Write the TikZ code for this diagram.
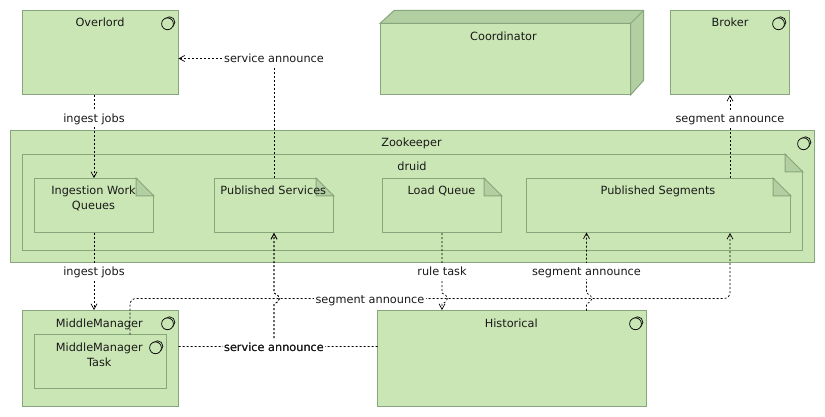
\documentclass[tikz,border=0pt]{standalone}
\usepackage{fontspec}
\setmainfont{DejaVu Sans}
\usepackage{tikz}
\usetikzlibrary{arrows.meta}
\definecolor{boxfill}{HTML}{CBE6B5}
\definecolor{boxline}{HTML}{88A67C}
\definecolor{boxdark}{HTML}{B2CFA2}
\tikzset{
  box/.style={draw=boxline,fill=boxfill,line width=1pt,inner sep=0pt},
  txtm/.style={font=\fontsize{11.3}{15}\selectfont,inner sep=0pt,align=center,text=black!90},
  txt/.style={txtm,text height=11.5pt,text depth=2.5pt},
  lbl/.style={txt,fill=white,inner xsep=1.5pt,inner ysep=1pt},
  conn/.style={black,line width=.7pt,dash pattern=on 2pt off 2pt},
  tip/.style={-{Straight Barb[length=5.5pt,width=6pt]}}
}
% folded corner on a named box
\newcommand{\notefold}[1]{
  \fill[boxfill] ([xshift=-18pt,yshift=1pt]#1.north east) -- ([xshift=1pt,yshift=1pt]#1.north east) -- ([xshift=1pt,yshift=-18pt]#1.north east) -- cycle;
  \draw[boxline,fill=boxdark,line width=1pt] ([xshift=-18pt]#1.north east) -- ([yshift=-18pt]#1.north east) -- ([xshift=-18pt,yshift=-18pt]#1.north east) -- cycle;
}
% component mark in the corner of a named box
\newcommand{\compmark}[1]{
  \draw[black,line width=.7pt] ([xshift=-9.5pt,yshift=-12.2pt]#1.north east) circle (5.4pt);
  \draw[black,fill=boxfill,line width=.7pt] ([xshift=-11.5pt,yshift=-13.8pt]#1.north east) circle (5.9pt);
}
\begin{document}
\begin{tikzpicture}[x=1pt,y=-1pt]
\useasboundingbox (0,0) rectangle (825,417);
\node[box,minimum width=156pt,minimum height=84pt] (overlord) at (100.5,52.5) {};
\node[box,minimum width=119pt,minimum height=84pt] (broker) at (730,52.5) {};
\node[box,minimum width=249.5pt,minimum height=70.5pt] (coord) at (505.25,59.25) {};
\draw[boxline,fill=boxdark,line width=1pt] (coord.north west) -- (394,10.5) -- (643.5,10.5) -- (643.5,80.5) -- (coord.south east) -- (coord.north east) -- cycle;
\draw[boxline,line width=1pt] (coord.north east) -- (643.5,10.5);
\node[box,minimum width=804pt,minimum height=132pt] (zoo) at (412.5,196.5) {};
\node[box,minimum width=780pt,minimum height=96pt] (druid) at (412.5,202.5) {};
\node[box,minimum width=119pt,minimum height=54pt] (ingest) at (94,205.5) {};
\node[box,minimum width=119pt,minimum height=54pt] (pubsvc) at (274,205.5) {};
\node[box,minimum width=119pt,minimum height=54pt] (loadq) at (442,205.5) {};
\node[box,minimum width=264pt,minimum height=54pt] (pubseg) at (658.5,205.5) {};
\node[box,minimum width=156pt,minimum height=95.5pt] (mm) at (100.5,358.25) {};
\node[box,minimum width=132pt,minimum height=54pt] (task) at (100.5,361.5) {};
\node[box,minimum width=269pt,minimum height=95.5pt] (hist) at (512,358.25) {};
\notefold{druid}
\notefold{ingest}
\notefold{pubsvc}
\notefold{loadq}
\notefold{pubseg}
\compmark{overlord}
\compmark{broker}
\compmark{zoo}
\compmark{mm}
\compmark{task}
\compmark{hist}
\node[txt] (overlordtxt) at (100,22) {Overlord};
\node[txt] (coordtxt) at (503.5,36) {Coordinator};
\node[txt] (brokertxt) at (730,22) {Broker};
\node[txt] (zootxt) at (411.5,142.5) {Zookeeper};
\node[txt] (druidtxt) at (412,166) {druid};
\node[txt] (pubsvctxt) at (273.3,190.5) {Published Services};
\node[txt] (loadqtxt) at (441.5,190.5) {Load Queue};
\node[txt] (pubsegtxt) at (658,190.5) {Published Segments};
\node[txt] (mmtxt) at (99.3,322.5) {MiddleManager};
\node[txt] (histtxt) at (511.3,322.5) {Historical};
\node[txtm] (ingesttxt) at (93.5,198.5) {Ingestion Work\\Queues};
\node[txtm] (tasktxt) at (99.3,354.5) {MiddleManager\\Task};
% connector ends that sit off the box centres
\coordinate (segin) at (586.5,310.5);
\coordinate (segup) at (586.5,232.5);
\coordinate (taskup) at (130,334.5);
\coordinate (svcin) at (178.5,58.5);
\coordinate (mmout) at (178.5,346.5);
\coordinate (histout) at (377.5,346.5);
\coordinate (svcmid) at (274,346.5);
\draw[conn,tip] (overlord.south -| ingest.north) -- (ingest.north);
\draw[conn,tip] (ingest.south) -- (ingest.south |- mm.north);
\draw[conn,tip] (pubsvc.north) -- (274,58.5) -- (svcin);
\draw[conn,tip] (mmout) -- (svcmid) -- (274,304) .. controls (277,302.5) and (279.5,301) .. (279.5,298.5) .. controls (279.5,296) and (277,294.5) .. (274,293) -- (pubsvc.south);
\draw[conn,tip] (histout) -- (svcmid) -- (274,304) .. controls (277,302.5) and (279.5,301) .. (279.5,298.5) .. controls (279.5,296) and (277,294.5) .. (274,293) -- (pubsvc.south);
\draw[conn,tip] (pubseg.north -| broker.south) -- (broker.south);
\draw[conn,tip] (loadq.south) -- (442,293) .. controls (445,294.5) and (447.5,296) .. (447.5,298.5) .. controls (447.5,301) and (445,302.5) .. (442,304) -- (loadq.south |- hist.north);
\draw[conn,tip] (segin) -- (586.5,304) .. controls (589.5,302.5) and (592,301) .. (592,298.5) .. controls (592,296) and (589.5,294.5) .. (586.5,293) -- (segup);
\draw[conn,tip,rounded corners=6pt] (taskup) -- (130,298.5) -- (730,298.5) -- (pubseg.south -| broker.south);
% labels over the lines
\node[lbl] (jobsa) at (94,118.5) {ingest jobs};
\node[lbl] (jobsb) at (94,271) {ingest jobs};
\node[lbl] (svca) at (274,58.5) {service announce};
\node[lbl] (svcb) at (274,346.5) {service announce};
\node[txt] (svcc) at (274,346.5) {service announce};
\node[lbl] (sega) at (730,118.5) {segment announce};
\node[lbl] (ruletxt) at (442,271) {rule task};
\node[lbl] (segb) at (586.5,271) {segment announce};
\node[lbl] (segc) at (370,298.5) {segment announce};
\end{tikzpicture}
\end{document}
